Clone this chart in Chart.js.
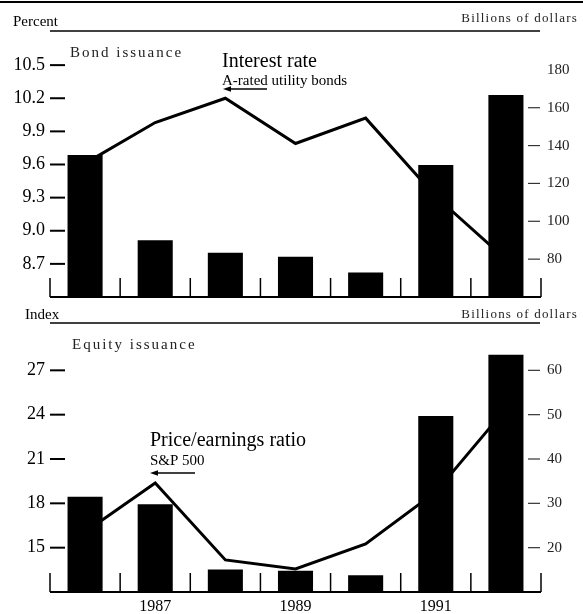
<!DOCTYPE html>
<html>
<head>
<meta charset="utf-8">
<script src="https://cdn.jsdelivr.net/npm/chart.js@4"></script>
<style>
html,body{margin:0;padding:0;background:#fff;}
canvas{display:block;}
#wrap{position:relative;width:583px;height:614px;}
#c1{position:absolute;left:0;top:0;}
#c2{position:absolute;left:0;top:300px;}
</style>
</head>
<body>
<div id="wrap">
<canvas id="c1" width="583" height="300"></canvas>
<canvas id="c2" width="583" height="314"></canvas>
</div>
<script>
// ---- data ----
const years = ['1986','1987','1988','1989','1990','1991','1992'];
const xTickLabels = ['1987','1989','1991'];
const bondIssuance = [135, 90, 83.4, 81.3, 73, 129.7, 166.7];       // billions of dollars
const interestRate = [9.61, 9.98, 10.20, 9.79, 10.02, 9.31, 8.74];  // percent
const equityIssuance = [31.5, 29.8, 15.1, 14.8, 13.8, 49.7, 63.5];  // billions of dollars
const peRatio = [16.06, 19.38, 14.17, 13.56, 15.25, 18.77, 24.41];  // index
const topLeftTicks = [8.7, 9.0, 9.3, 9.6, 9.9, 10.2, 10.5];
const topRightTicks = [80, 100, 120, 140, 160, 180];
const botLeftTicks = [15, 18, 21, 24, 27];
const botRightTicks = [20, 30, 40, 50, 60];

const SERIF = '"Liberation Serif", "DejaVu Serif", serif';

function line(ctx, x1, y1, x2, y2){ ctx.beginPath(); ctx.moveTo(x1,y1); ctx.lineTo(x2,y2); ctx.stroke(); }
function arrowLeft(ctx, xStart, xTip, y){
  ctx.lineWidth = 1.3;
  line(ctx, xStart, y, xTip + 4, y);
  ctx.beginPath(); ctx.moveTo(xTip, y); ctx.lineTo(xTip + 8, y - 2.8); ctx.lineTo(xTip + 8, y + 2.8); ctx.closePath(); ctx.fill();
}
function txt(ctx, s, x, y, size, opts = {}){
  ctx.font = (opts.weight || '') + ' ' + size + 'px ' + SERIF;
  ctx.letterSpacing = (opts.ls || 0) + 'px';
  ctx.textAlign = opts.align || 'left';
  ctx.textBaseline = 'alphabetic';
  ctx.fillStyle = opts.color || '#000';
  ctx.fillText(s, x, y);
  ctx.letterSpacing = '0px';
}

const panelPlugin = {
  id: 'panel',
  afterDraw(chart, args, o) {
    const {ctx, chartArea: a, scales} = chart;
    ctx.save();
    ctx.strokeStyle = '#000'; ctx.fillStyle = '#000';
    // baseline
    ctx.lineWidth = 2;
    line(ctx, a.left, a.bottom, a.right, a.bottom);
    // x tick marks at category boundaries (pointing up into the plot)
    const xs = scales.x;
    const n = years.length;
    const half = (xs.getPixelForValue(1) - xs.getPixelForValue(0)) / 2;
    ctx.lineWidth = 1.5;
    for (let i = 0; i <= n; i++) {
      const px = i < n ? xs.getPixelForValue(i) - half : xs.getPixelForValue(n - 1) + half;
      line(ctx, px, a.bottom, px, a.bottom - 19);
    }
    // left dashes
    ctx.lineWidth = 2;
    o.leftDash.forEach(v => { const py = scales.yL.getPixelForValue(v); line(ctx, a.left, py, a.left + 15, py); });
    // right dashes
    ctx.lineWidth = 1.2;
    ctx.strokeStyle = '#333';
    o.rightDash.forEach(v => { const py = scales.yR.getPixelForValue(v); line(ctx, a.right - 13, py, a.right - 1, py); });
    ctx.strokeStyle = '#000';
    // headers and annotations
    o.draw(ctx);
    ctx.restore();
  }
};

function fixY(w) {
  return s => { s.width = w; s.paddingTop = 0; s.paddingBottom = 0; };
}

function makeChart(id, cfg) {
  return new Chart(document.getElementById(id), {
    type: 'bar',
    data: {
      labels: years,
      datasets: [
        { type: 'line', data: cfg.lineData, yAxisID: 'yL', borderColor: '#000', borderWidth: 3,
          pointRadius: 0, tension: 0, borderJoinStyle: 'miter', order: 0, fill: false },
        { type: 'bar', data: cfg.barData, yAxisID: 'yR', backgroundColor: '#000', borderWidth: 0,
          barPercentage: 0.5, categoryPercentage: 1, order: 1 }
      ]
    },
    options: {
      responsive: false, animation: false, devicePixelRatio: 1,
      layout: { padding: { top: cfg.padTop, bottom: 0, left: 0, right: 0 } },
      plugins: { legend: { display: false }, tooltip: { enabled: false }, panel: cfg.panel },
      scales: {
        x: {
          type: 'category', offset: true,
          grid: { display: false, drawTicks: false }, border: { display: false },
          ticks: {
            display: cfg.showX, autoSkip: false, maxRotation: 0, padding: 5, color: '#000',
            font: { family: SERIF, size: 16 },
            callback: function (v) { const l = this.getLabelForValue(v); return xTickLabels.includes(l) ? l : ''; }
          },
          afterFit: s => { s.height = cfg.xHeight; s.paddingLeft = 0; s.paddingRight = 0; }
        },
        yL: {
          position: 'left', min: cfg.lMin, max: cfg.lMax,
          grid: { display: false, drawTicks: false }, border: { display: false },
          afterBuildTicks: s => { s.ticks = cfg.lTicks.map(v => ({ value: v })); },
          ticks: { padding: 5, color: '#000', font: { family: SERIF, size: 18 },
            callback: cfg.lFmt },
          afterFit: fixY(50)
        },
        yR: {
          position: 'right', min: cfg.rMin, max: cfg.rMax,
          grid: { display: false, drawTicks: false }, border: { display: false },
          afterBuildTicks: s => { s.ticks = cfg.rTicks.map(v => ({ value: v })); },
          ticks: { padding: 6, color: '#222', font: { family: SERIF, size: 15 } },
          afterFit: fixY(42)
        }
      }
    },
    plugins: [panelPlugin]
  });
}

makeChart('c1', {
  lineData: interestRate, barData: bondIssuance,
  padTop: 32, xHeight: 3, showX: false,
  lMin: 8.4, lMax: 10.8, lTicks: topLeftTicks, lFmt: v => Number(v).toFixed(1),
  rMin: 60, rMax: 200, rTicks: topRightTicks,
  panel: {
    leftDash: topLeftTicks, rightDash: [80, 100, 120, 140, 160],
    draw(ctx) {
      ctx.lineWidth = 2; line(ctx, 0, 2, 583, 2);
      ctx.lineWidth = 1.5; line(ctx, 50, 31, 540, 31);
      txt(ctx, 'Percent', 13, 26, 15);
      txt(ctx, 'Billions of dollars', 578, 22, 13, { align: 'right', ls: 1.2, color: '#222' });
      txt(ctx, 'Bond issuance', 70, 57, 15, { ls: 2, color: '#222' });
      txt(ctx, 'Interest rate', 222, 67, 20);
      txt(ctx, 'A-rated utility bonds', 222, 85, 15);
      arrowLeft(ctx, 267, 223, 89);
    }
  }
});

makeChart('c2', {
  lineData: peRatio, barData: equityIssuance,
  padTop: 26, xHeight: 22, showX: true,
  lMin: 12, lMax: 30, lTicks: botLeftTicks, lFmt: v => String(v),
  rMin: 10, rMax: 70, rTicks: botRightTicks,
  panel: {
    leftDash: botLeftTicks, rightDash: botRightTicks,
    draw(ctx) {
      ctx.lineWidth = 1.5; line(ctx, 50, 23, 540, 23);
      txt(ctx, 'Index', 25, 19, 15);
      txt(ctx, 'Billions of dollars', 578, 18, 13, { align: 'right', ls: 1.2, color: '#222' });
      txt(ctx, 'Equity issuance', 72, 49, 15, { ls: 2, color: '#222' });
      txt(ctx, 'Price/earnings ratio', 150, 146, 20);
      txt(ctx, 'S&P 500', 150, 165, 15);
      arrowLeft(ctx, 195, 150, 173);
    }
  }
});
</script>
</body>
</html>
